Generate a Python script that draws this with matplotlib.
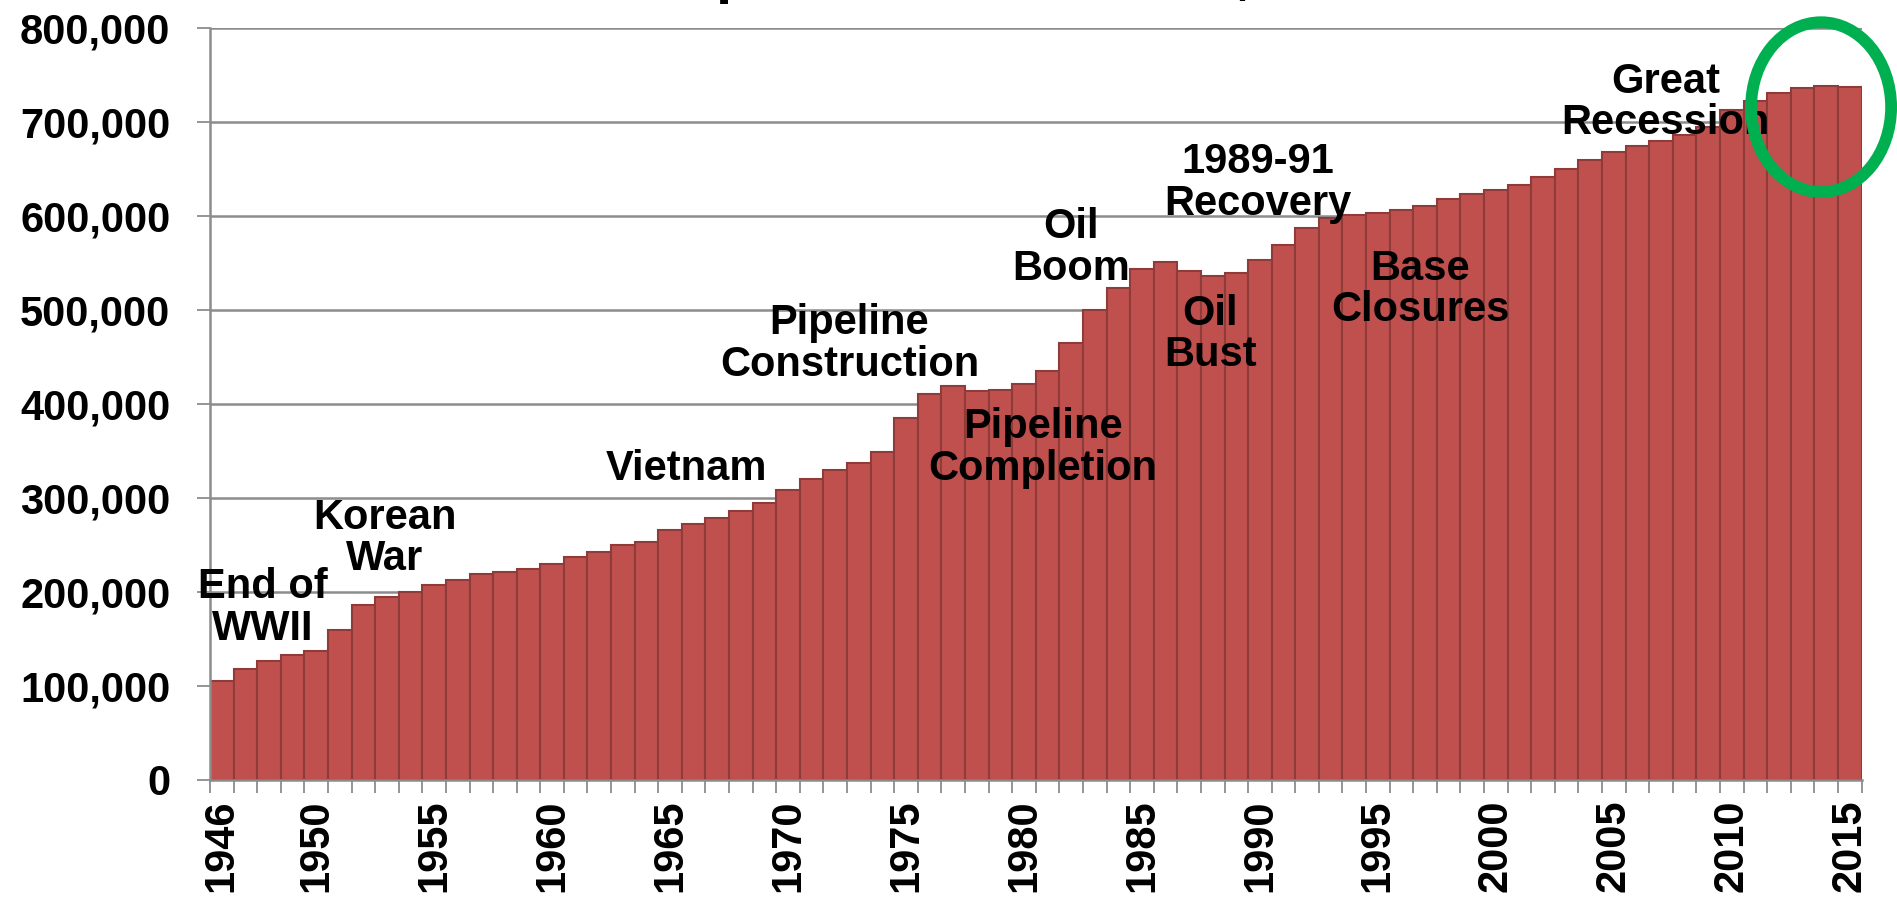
import matplotlib.pyplot as plt
from matplotlib.patches import Ellipse
from matplotlib.ticker import FuncFormatter

years = list(range(1946, 2016))
population = [
    105000, 118000, 127000, 133000, 137000, 160000, 186000, 195000, 200000, 207000,
    213000, 219000, 221000, 224000, 230000, 237000, 243000, 250000, 253000, 266000,
    272000, 279000, 286000, 295000, 309000, 320000, 330000, 337000, 349000, 385000,
    411000, 419000, 414000, 415000, 421000, 435000, 465000, 500000, 524000, 544000,
    551000, 542000, 536000, 539000, 553000, 569000, 587000, 598000, 601000, 603000,
    606000, 611000, 618000, 623000, 628000, 633000, 642000, 650000, 660000, 668000,
    675000, 680000, 686000, 695000, 713000, 723000, 731000, 736000, 738000, 737000,
]
label_years = [1946, 1950, 1955, 1960, 1965, 1970, 1975, 1980, 1985, 1990, 1995, 2000, 2005, 2010, 2015]
events = [
    ("End of\nWWII", 1947.75, 183000),
    ("Korean\nWar", 1952.9, 257000),
    ("Vietnam", 1965.7, 331000),
    ("Pipeline\nConstruction", 1972.6, 464000),
    ("Pipeline\nCompletion", 1980.8, 353000),
    ("Oil\nBoom", 1982.0, 566000),
    ("Oil\nBust", 1987.9, 474000),
    ("1989-91\nRecovery", 1989.9, 635000),
    ("Base\nClosures", 1996.8, 522000),
    ("Great\nRecession", 2007.2, 721000),
]

plt.rcParams['font.family'] = ['Liberation Sans', 'DejaVu Sans']
plt.rcParams['font.weight'] = 'bold'

fig = plt.figure(figsize=(18.97, 9.08), dpi=100)
ax = fig.add_axes([0.1107, 0.141, 0.8706, 0.828])

ax.bar(years, population, width=1.0, color='#C0504D', edgecolor='#8E3B39', linewidth=1.5, zorder=2)

ax.set_xlim(1945.5, 2015.5)
ax.set_ylim(0, 800000)
ax.set_yticks(range(0, 800001, 100000))
ax.yaxis.set_major_formatter(FuncFormatter(lambda v, p: '{:,}'.format(int(v))))
ax.grid(axis='y', color='#8C8C8C', linewidth=1.8, zorder=0)
ax.set_axisbelow(True)

ax.set_xticks(label_years)
ax.set_xticklabels([str(y) for y in label_years], rotation=90)
ax.set_xticks([y - 0.5 for y in years] + [2015.5], minor=True)
ax.tick_params(axis='x', which='major', length=0, pad=14, labelsize=30)
ax.tick_params(axis='x', which='minor', length=9.5, width=1.3, color='#8C8C8C')
ax.tick_params(axis='y', length=9.5, width=1.3, color='#8C8C8C', pad=19, labelsize=30)

for side in ['top', 'right']:
    ax.spines[side].set_visible(False)
for side in ['left', 'bottom']:
    ax.spines[side].set_color('#8C8C8C')
    ax.spines[side].set_linewidth(1.8)

for text, x, y in events:
    ax.text(x, y, text, ha='center', va='center', fontsize=30, fontweight='bold',
            linespacing=1.05, zorder=5)

# title sits mostly above the picture; only its descenders show
fig.text(0.523, 1.009, 'Alaska Population Estimates, 1946-2015', ha='center', va='baseline',
         fontsize=42, fontweight='bold')

ring = Ellipse((0.960, 0.882), 0.0738, 0.187, transform=fig.transFigure,
               fill=False, edgecolor='#00B050', linewidth=8.5, clip_on=False, zorder=10)
fig.add_artist(ring)

fig.savefig('out.png', dpi=100)
